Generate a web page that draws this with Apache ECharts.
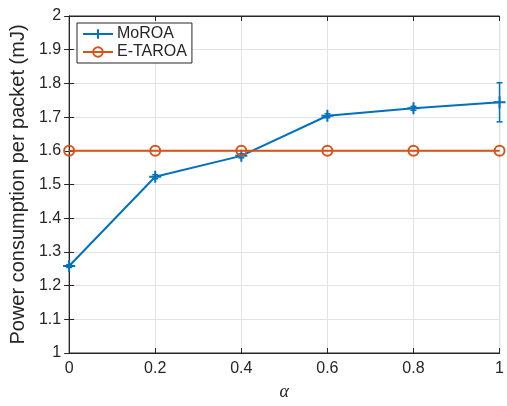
<!DOCTYPE html>
<html>
<head>
<meta charset="utf-8">
<script src="https://cdn.jsdelivr.net/npm/echarts@6/dist/echarts.min.js"></script>
<style>
  html, body { margin: 0; padding: 0; background: #fff; }
  #chart { width: 507px; height: 406px; }
</style>
</head>
<body>
<div id="chart"></div>
<script>
// Weighting factor alpha on the x axis
const alphaValues = [0, 0.2, 0.4, 0.6, 0.8, 1.0];
// Power consumption per packet (mJ)
const moroa = [1.258, 1.523, 1.585, 1.704, 1.726, 1.744];
const moroaErr = [0.004, 0.006, 0.006, 0.006, 0.006, 0.058];
const etaroa = [1.6, 1.6, 1.6, 1.6, 1.6, 1.6];
const seriesNames = ['MoROA', 'E-TAROA'];

const BLUE = '#0072BD';
const ORANGE = '#D95319';
const TEXT = '#262626';
const FONT = '"Liberation Sans", Arial, sans-serif';

const chart = echarts.init(document.getElementById('chart'), null, { renderer: 'canvas' });

const pairs = (ys) => alphaValues.map((x, i) => [x, ys[i]]);
const errData = alphaValues.map((x, i) => [x, moroa[i] - moroaErr[i], moroa[i] + moroaErr[i]]);

const tickLabel = { color: TEXT, fontFamily: FONT, fontSize: 16 };

chart.setOption({
  animation: false,
  backgroundColor: '#fff',
  grid: {
    left: 67, right: 7, top: 16, bottom: 53,
    show: true, borderColor: TEXT, borderWidth: 1, backgroundColor: 'transparent'
  },
  legend: {
    left: 77, top: 23,
    orient: 'vertical',
    data: seriesNames,
    itemWidth: 30, itemHeight: 12, itemGap: 2,
    padding: [3, 5, 3, 5],
    borderColor: TEXT, borderWidth: 1, borderRadius: 0,
    backgroundColor: '#fff',
    textStyle: { color: TEXT, fontFamily: FONT, fontSize: 16, lineHeight: 16, padding: [0, 0, 0, -1] }
  },
  xAxis: [{
    type: 'value', min: 0, max: 1, interval: 0.2, position: 'bottom',
    name: 'α', nameLocation: 'middle', nameGap: 30,
    nameTextStyle: { fontFamily: '"Liberation Serif", "DejaVu Serif", serif', fontStyle: 'italic', fontSize: 18, color: TEXT },
    axisLine: { show: true, lineStyle: { color: TEXT, width: 1 } },
    axisTick: { show: true, inside: true, length: 5, lineStyle: { color: TEXT } },
    axisLabel: Object.assign({ margin: 8, formatter: (v) => String(Math.round(v * 10) / 10) }, tickLabel),
    splitLine: { show: true, lineStyle: { color: '#e3e3e3', width: 1 } }
  }, {
    type: 'value', min: 0, max: 1, interval: 0.2, position: 'top',
    axisLine: { show: true, lineStyle: { color: TEXT, width: 1 } },
    axisTick: { show: true, inside: true, length: 5, lineStyle: { color: TEXT } },
    axisLabel: { show: false }, splitLine: { show: false }
  }],
  yAxis: [{
    type: 'value', min: 1, max: 2, interval: 0.1, position: 'left',
    name: 'Power consumption per packet (mJ)', nameLocation: 'middle', nameGap: 35,
    nameTextStyle: { fontFamily: FONT, fontSize: 20, color: TEXT },
    axisLine: { show: true, lineStyle: { color: TEXT, width: 1 } },
    axisTick: { show: true, inside: true, length: 5, lineStyle: { color: TEXT } },
    axisLabel: Object.assign({ margin: 8, formatter: (v) => String(Math.round(v * 10) / 10) }, tickLabel),
    splitLine: { show: true, lineStyle: { color: '#e3e3e3', width: 1 } }
  }, {
    type: 'value', min: 1, max: 2, interval: 0.1, position: 'right',
    axisLine: { show: true, lineStyle: { color: TEXT, width: 1 } },
    axisTick: { show: true, inside: true, length: 5, lineStyle: { color: TEXT } },
    axisLabel: { show: false }, splitLine: { show: false }
  }],
  series: [{
    // vertical error bars with caps for MoROA
    type: 'custom',
    xAxisIndex: 0, yAxisIndex: 0,
    silent: true,
    clip: false,
    z: 2,
    data: errData,
    renderItem: (params, api) => {
      const x = api.value(0);
      const lo = api.coord([x, api.value(1)]);
      const hi = api.coord([x, api.value(2)]);
      const cap = 3;
      const style = { stroke: BLUE, lineWidth: 1.5, fill: null };
      return {
        type: 'group',
        children: [
          { type: 'line', shape: { x1: lo[0], y1: lo[1], x2: hi[0], y2: hi[1] }, style },
          { type: 'line', shape: { x1: lo[0] - cap, y1: lo[1], x2: lo[0] + cap, y2: lo[1] }, style },
          { type: 'line', shape: { x1: hi[0] - cap, y1: hi[1], x2: hi[0] + cap, y2: hi[1] }, style }
        ]
      };
    }
  }, {
    name: 'MoROA',
    type: 'line',
    xAxisIndex: 0, yAxisIndex: 0,
    data: pairs(moroa),
    clip: false,
    z: 3,
    symbol: 'path://M5,0L5,10M0,5L10,5',
    symbolSize: 12,
    showAllSymbol: true,
    lineStyle: { color: BLUE, width: 2 },
    itemStyle: { color: 'none', borderColor: BLUE, borderWidth: 2 }
  }, {
    name: 'E-TAROA',
    type: 'line',
    xAxisIndex: 0, yAxisIndex: 0,
    data: pairs(etaroa),
    clip: false,
    z: 4,
    symbol: 'circle',
    symbolSize: 10,
    showAllSymbol: true,
    lineStyle: { color: ORANGE, width: 2 },
    itemStyle: { color: 'none', borderColor: ORANGE, borderWidth: 2 }
  }]
});
</script>
</body>
</html>
